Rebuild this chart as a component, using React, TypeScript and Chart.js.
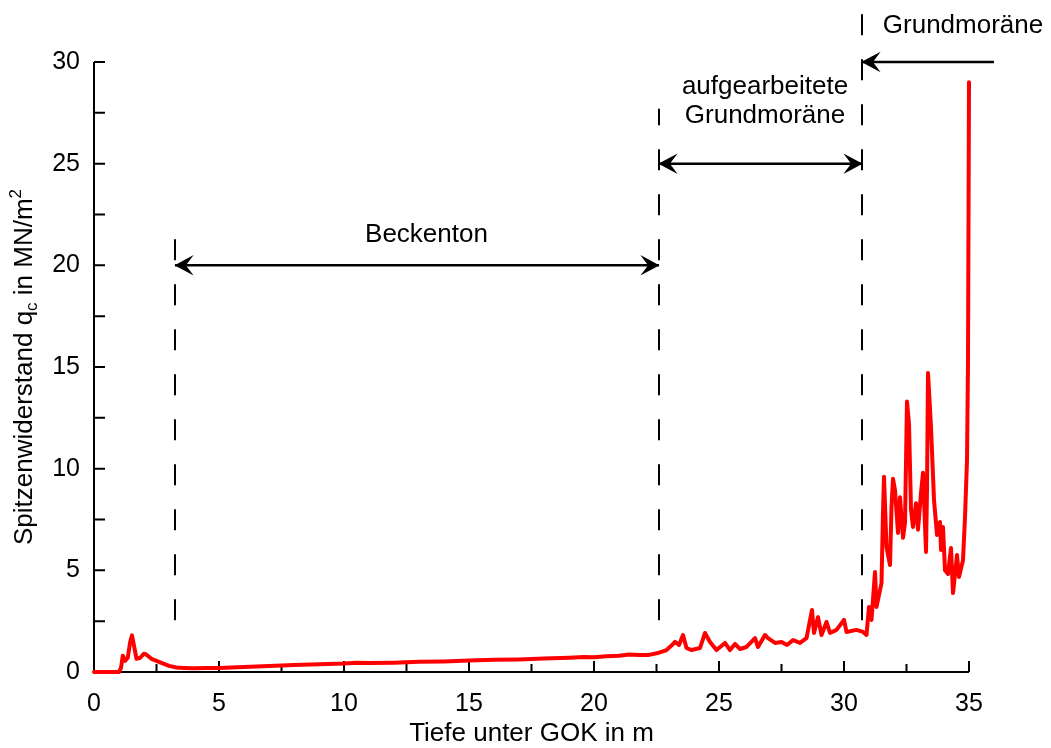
import React, { useEffect, useRef } from "react";
import { Chart, registerables } from "chart.js";

Chart.register(...registerables);

// Depth (m) and cone resistance qc (MN/m²)
const depth = [
  0, 0.5, 1.0, 1.08, 1.15, 1.25, 1.35, 1.45, 1.52, 1.6, 1.7, 1.85, 2.0, 2.1, 2.3, 2.5, 2.8, 3.0, 3.3, 3.6,
  4.0, 4.5, 5.0, 6.0, 7.0, 8.0, 9.0, 10.0, 10.5, 11.0, 12.0, 13.0, 14.0, 15.0, 16.0, 17.0, 18.0, 19.0, 19.6, 20.0,
  20.5, 21.0, 21.4, 21.8, 22.2, 22.6, 22.9, 23.1, 23.24, 23.4, 23.56, 23.7, 23.9, 24.24, 24.44, 24.64, 24.9, 25.24, 25.44, 25.64,
  25.84, 26.1, 26.44, 26.56, 26.84, 26.96, 27.24, 27.5, 27.72, 27.96, 28.24, 28.5, 28.72, 28.8, 28.96, 29.1, 29.3, 29.44, 29.7, 30.0,
  30.1, 30.5, 30.76, 30.9, 31.0, 31.1, 31.24, 31.3, 31.5, 31.56, 31.6, 31.7, 31.84, 31.9, 31.96, 32.04, 32.16, 32.24, 32.36, 32.44,
  32.52, 32.6, 32.68, 32.76, 32.88, 32.96, 33.08, 33.16, 33.28, 33.32, 33.36, 33.48, 33.6, 33.72, 33.84, 33.88, 33.96, 34.04, 34.16, 34.28,
  34.36, 34.52, 34.6, 34.76, 34.84, 34.92, 34.96, 35.0,
];
const qc = [
  0, 0, 0, 0.2, 0.8, 0.55, 0.7, 1.5, 1.8, 1.3, 0.65, 0.7, 0.9, 0.85, 0.65, 0.55, 0.4, 0.3, 0.22, 0.2,
  0.18, 0.2, 0.2, 0.24, 0.3, 0.34, 0.38, 0.42, 0.46, 0.44, 0.46, 0.5, 0.52, 0.56, 0.6, 0.62, 0.66, 0.7, 0.74, 0.72,
  0.78, 0.8, 0.86, 0.84, 0.84, 0.95, 1.08, 1.3, 1.48, 1.33, 1.82, 1.18, 1.08, 1.18, 1.92, 1.48, 1.08, 1.43, 1.08, 1.38,
  1.13, 1.23, 1.67, 1.23, 1.82, 1.67, 1.43, 1.48, 1.33, 1.57, 1.43, 1.67, 3.05, 1.92, 2.7, 1.82, 2.46, 1.92, 2.07, 2.56,
  1.97, 2.07, 1.97, 1.82, 3.2, 2.56, 4.92, 3.2, 4.37, 7.8, 9.6, 6.15, 5.26, 8.1, 9.5, 8.95, 6.84, 8.6, 6.6, 7.33,
  13.3, 12.2, 8.0, 7.13, 8.3, 7.0, 8.8, 9.8, 5.9, 8.95, 14.7, 12.05, 8.46, 6.74, 7.38, 6.0, 7.13, 5.0, 4.82, 6.1,
  3.88, 5.75, 4.67, 5.5, 7.6, 10.4, 15.2, 29.0,
];

const xTicks = [0, 5, 10, 15, 20, 25, 30, 35];
const xMinorTicks = [2.5, 7.5, 12.5, 17.5, 22.5, 27.5, 32.5];
const yTicks = [0, 5, 10, 15, 20, 25, 30];
const yMinorTicks = [2.5, 7.5, 12.5, 17.5, 22.5, 27.5];

// Layer boundaries (depth) and labels
const boundaries = [3.24, 22.6, 30.72];
const boundaryTops = [21.8, 27.7, 32.6];
const boundaryBottom = 2.55;
const layerArrows = [
  { from: 3.24, to: 22.6, y: 20, both: true },
  { from: 22.6, to: 30.72, y: 25, both: true },
  { from: 36.0, to: 30.72, y: 30, both: false },
];
const layerLabels = [
  { text: "Beckenton", x: 13.3, y: 21.5 },
  { text: "aufgearbeitete", x: 26.84, y: 28.8 },
  { text: "Grundmoräne", x: 26.84, y: 27.35 },
  { text: "Grundmoräne", x: 34.76, y: 31.8 },
];

const FONT = '"Liberation Sans", Arial, Helvetica, sans-serif';

const decorPlugin = {
  id: "decor",
  beforeDatasetsDraw(chart: any) {
    const { ctx, chartArea } = chart;
    const xs = chart.scales.x;
    const ys = chart.scales.y;
    ctx.save();
    ctx.strokeStyle = "#000";
    ctx.lineWidth = 2;
    ctx.beginPath();
    ctx.moveTo(chartArea.left, chartArea.top);
    ctx.lineTo(chartArea.left, chartArea.bottom);
    ctx.lineTo(chartArea.right, chartArea.bottom);
    ctx.stroke();
    ctx.beginPath();
    for (const t of xTicks) {
      const px = xs.getPixelForValue(t);
      ctx.moveTo(px, chartArea.bottom);
      ctx.lineTo(px, chartArea.bottom - 11);
    }
    for (const t of xMinorTicks) {
      const px = xs.getPixelForValue(t);
      ctx.moveTo(px, chartArea.bottom);
      ctx.lineTo(px, chartArea.bottom - 8);
    }
    for (const t of yTicks) {
      const py = ys.getPixelForValue(t);
      ctx.moveTo(chartArea.left, py);
      ctx.lineTo(chartArea.left + 11, py);
    }
    for (const t of yMinorTicks) {
      const py = ys.getPixelForValue(t);
      ctx.moveTo(chartArea.left, py);
      ctx.lineTo(chartArea.left + 11, py);
    }
    ctx.stroke();

    ctx.fillStyle = "#000";
    ctx.font = `25px ${FONT}`;
    ctx.textAlign = "center";
    ctx.textBaseline = "middle";
    for (const t of xTicks) {
      ctx.fillText(String(t), xs.getPixelForValue(t), chartArea.bottom + 32);
    }
    ctx.textAlign = "right";
    for (const t of yTicks) {
      ctx.fillText(String(t), chartArea.left - 14, ys.getPixelForValue(t));
    }

    // axis titles
    ctx.font = `26px ${FONT}`;
    ctx.textAlign = "center";
    ctx.fillText("Tiefe unter GOK in m", (chartArea.left + chartArea.right) / 2, chartArea.bottom + 62);

    // y title with subscript and superscript
    ctx.save();
    ctx.translate(25, (chartArea.top + chartArea.bottom) / 2);
    ctx.rotate(-Math.PI / 2);
    const big = `26px ${FONT}`;
    const small = `17px ${FONT}`;
    const parts = [
      { t: "Spitzenwiderstand q", f: big, dy: 0 },
      { t: "c", f: small, dy: 7 },
      { t: " in MN/m", f: big, dy: 0 },
      { t: "2", f: small, dy: -9 },
    ];
    let total = 0;
    for (const p of parts) {
      ctx.font = p.f;
      total += ctx.measureText(p.t).width;
    }
    let cx = -total / 2;
    ctx.textAlign = "left";
    for (const p of parts) {
      ctx.font = p.f;
      ctx.fillText(p.t, cx, p.dy);
      cx += ctx.measureText(p.t).width;
    }
    ctx.restore();
    ctx.restore();
  },
  afterDatasetsDraw(chart: any) {
    const { ctx } = chart;
    const xs = chart.scales.x;
    const ys = chart.scales.y;
    ctx.save();
    ctx.strokeStyle = "#000";
    ctx.fillStyle = "#000";
    ctx.lineWidth = 2;
    ctx.setLineDash([21, 24]);
    boundaries.forEach((b, i) => {
      const px = Math.round(xs.getPixelForValue(b));
      ctx.beginPath();
      ctx.moveTo(px, ys.getPixelForValue(boundaryBottom));
      ctx.lineTo(px, ys.getPixelForValue(boundaryTops[i]));
      ctx.stroke();
    });
    ctx.setLineDash([]);
    ctx.lineWidth = 2.5;
    const head = (x: number, y: number, dir: number) => {
      ctx.beginPath();
      ctx.moveTo(x + dir * 1, y);
      ctx.lineTo(x + dir * 16, y - 8);
      ctx.lineTo(x + dir * 10, y);
      ctx.lineTo(x + dir * 16, y + 8);
      ctx.closePath();
      ctx.fill();
      ctx.lineWidth = 1.5;
      ctx.stroke();
      ctx.lineWidth = 2.5;
    };
    for (const a of layerArrows) {
      const x1 = xs.getPixelForValue(a.from);
      const x2 = xs.getPixelForValue(a.to);
      const py = ys.getPixelForValue(a.y);
      ctx.beginPath();
      ctx.moveTo(x1, py);
      ctx.lineTo(x2, py);
      ctx.stroke();
      const dirTo = x2 > x1 ? -1 : 1;
      head(x2, py, dirTo);
      if (a.both) head(x1, py, -dirTo);
    }
    ctx.font = `26px ${FONT}`;
    ctx.textAlign = "center";
    ctx.textBaseline = "middle";
    for (const l of layerLabels) {
      ctx.fillText(l.text, xs.getPixelForValue(l.x), ys.getPixelForValue(l.y));
    }
    ctx.restore();
  },
};

export default function App() {
  const ref = useRef<HTMLCanvasElement>(null);
  useEffect(() => {
    document.body.style.margin = "0";
    const chart = new Chart(ref.current!, {
      type: "line",
      data: {
        datasets: [
          {
            data: depth.map((d, i) => ({ x: d, y: qc[i] })),
            borderColor: "#ff0000",
            borderWidth: 4,
            borderJoinStyle: "round",
            borderCapStyle: "round",
            pointRadius: 0,
            tension: 0,
            fill: false,
            clip: false as any,
          },
        ],
      },
      options: {
        responsive: false,
        animation: false,
        devicePixelRatio: 1,
        layout: { padding: { left: 94, right: 82, top: 62, bottom: 76 } },
        plugins: { legend: { display: false }, tooltip: { enabled: false } },
        scales: {
          x: { type: "linear", min: 0, max: 35, display: false },
          y: { type: "linear", min: 0, max: 30, display: false },
        },
      },
      plugins: [decorPlugin],
    });
    return () => chart.destroy();
  }, []);
  return <canvas ref={ref} width={1051} height={748} style={{ display: "block" }} />;
}
